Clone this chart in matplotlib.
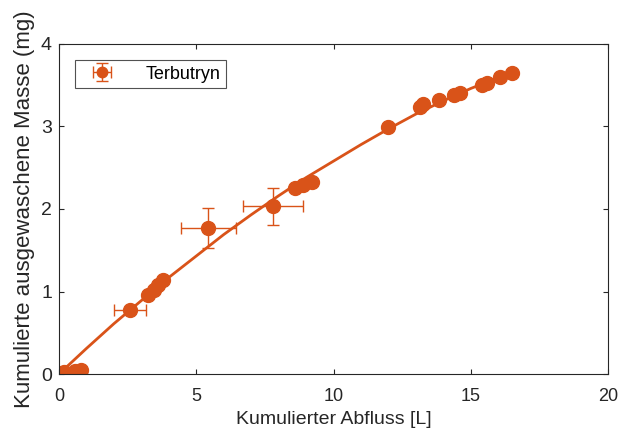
import matplotlib.pyplot as plt

plt.rcParams['font.family'] = ['Liberation Sans', 'DejaVu Sans']

# measured points
abfluss = [0.1, 0.2, 0.6, 0.8, 2.6, 3.25, 3.45, 3.6, 3.8, 5.44, 7.8,
           8.6, 8.9, 9.2, 12.0, 13.15, 13.25, 13.85, 14.4, 14.6,
           15.4, 15.6, 16.05, 16.5]
masse = [0.01, 0.02, 0.04, 0.05, 0.78, 0.96, 1.02, 1.08, 1.14, 1.77, 2.03,
         2.26, 2.29, 2.33, 2.99, 3.24, 3.27, 3.32, 3.38, 3.41,
         3.50, 3.53, 3.60, 3.65]
xerr = [0, 0, 0, 0, 0.58, 0, 0, 0, 0, 0.99, 1.1,
        0, 0, 0, 0, 0, 0, 0, 0, 0, 0, 0, 0, 0]
yerr = [0, 0, 0, 0, 0, 0, 0, 0, 0, 0.24, 0.22,
        0, 0, 0, 0, 0, 0, 0, 0, 0, 0, 0, 0, 0]

# fitted curve
fit_x = [0, 1, 2, 3, 4, 5, 6, 7, 8, 9, 10, 11, 12, 13, 14, 15, 16, 16.5]
fit_y = [0, 0.31, 0.61, 0.89, 1.17, 1.43, 1.69, 1.93, 2.16, 2.38, 2.58,
         2.78, 2.97, 3.15, 3.31, 3.46, 3.59, 3.65]

col = '#D95319'
dark = '#262626'

fig = plt.figure(figsize=(6.2, 4.34), dpi=100)
ax = fig.add_axes([0.095, 0.138, 0.886, 0.761])

ax.plot(fit_x, fit_y, color=col, lw=2)
ax.errorbar(abfluss, masse, xerr=xerr, yerr=yerr, fmt='o', color=col,
            ms=10, elinewidth=1, capsize=4, label='Terbutryn')

ax.set_xlim(0, 20)
ax.set_ylim(0, 4)
ax.set_xticks([0, 5, 10, 15, 20])
ax.set_yticks([0, 1, 2, 3, 4])
ax.tick_params(direction='in', top=True, right=True, colors=dark)
ax.tick_params(axis='x', labelsize=13, pad=10)
ax.tick_params(axis='y', labelsize=14, pad=5)
for s in ax.spines.values():
    s.set_color(dark)
ax.set_xlabel('Kumulierter Abfluss [L]', fontsize=14, color=dark, labelpad=4)
ax.set_ylabel('Kumulierte ausgewaschene Masse (mg)', fontsize=16, color=dark, labelpad=4)

leg = ax.legend(loc='upper left', fontsize=13, fancybox=False, edgecolor=dark,
                borderaxespad=0.9, markerscale=0.75, handlelength=2.4,
                borderpad=0.3, handletextpad=1.2)
leg.get_frame().set_linewidth(0.8)

fig.savefig('out.png', dpi=100)
